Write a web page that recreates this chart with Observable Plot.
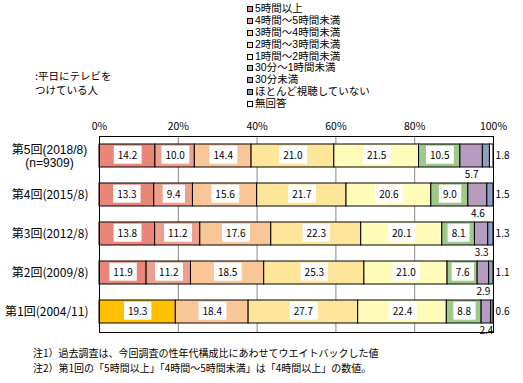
<!DOCTYPE html>
<html>
<head>
<meta charset="utf-8">
<script src="https://cdn.jsdelivr.net/npm/d3@7"></script>
<script src="https://cdn.jsdelivr.net/npm/@observablehq/plot@0.6"></script>
<style>
  html, body { margin: 0; padding: 0; background: #fff; }
  #wrap { position: relative; width: 523px; height: 383px; font-family: "Noto Sans CJK JP", sans-serif; color: #000; }
  #chart { position: absolute; left: 0; top: 0; }
  #legend { position: absolute; left: 247px; top: 3px; font-family: "Liberation Sans", "Noto Sans CJK JP", sans-serif; font-size: 10.5px; line-height: 11.9px; }
  #legend .it { display: flex; align-items: center; white-space: nowrap; height: 11.9px; }
  #legend .sw { display: inline-block; width: 4px; height: 4px; border: 1px solid #000; margin-right: 2px; }
  #note { position: absolute; left: 35px; top: 69px; font-size: 10.5px; line-height: 14px; }
  #foot { position: absolute; left: 33px; top: 345px; font-size: 10px; line-height: 15px; white-space: nowrap; }
</style>
</head>
<body>
<div id="wrap">
  <div id="chart"></div>
  <div id="legend"></div>
  <div id="note">:平日にテレビを<br>つけている人</div>
  <div id="foot">注1）過去調査は、今回調査の性年代構成比にあわせてウエイトバックした値<br>注2）第1回の「5時間以上」「4時間～5時間未満」は「4時間以上」の数値。</div>
</div>
<script>
// ---- data ----
const rounds = ["第5回(2018/8)", "第4回(2015/8)", "第3回(2012/8)", "第2回(2009/8)", "第1回(2004/11)"];
const sampleNote = "(n=9309)";
const categories = ["5時間以上", "4時間～5時間未満", "3時間～4時間未満", "2時間～3時間未満", "1時間～2時間未満", "30分～1時間未満", "30分未満", "ほとんど視聴していない", "無回答"];
const combinedCategory = "4時間以上";
const v5hPlus   = [14.2, 13.3, 13.8, 11.9, null];
const v4to5h    = [10.0, 9.4, 11.2, 11.2, null];
const v4hPlus   = [null, null, null, null, 19.3];
const v3to4h    = [14.4, 15.6, 17.6, 18.5, 18.4];
const v2to3h    = [21.0, 21.7, 22.3, 25.3, 27.7];
const v1to2h    = [21.5, 20.6, 20.1, 21.0, 22.4];
const v30to60m  = [10.5, 9.0, 8.1, 7.6, 8.8];
const vUnder30m = [5.7, 4.6, 3.3, 2.9, 2.4];
const vRarely   = [1.8, 1.5, 1.3, 1.1, 0.6];
const vNoAnswer = [0.9, 0, 0, 0, 0];
const xTicks = [0, 0.2, 0.4, 0.6, 0.8, 1];

// ---- build table (stack order = input order) ----
const seriesList = [
  [categories[0], v5hPlus], [categories[1], v4to5h], [combinedCategory, v4hPlus],
  [categories[2], v3to4h], [categories[3], v2to3h], [categories[4], v1to2h],
  [categories[5], v30to60m], [categories[6], vUnder30m], [categories[7], vRarely], [categories[8], vNoAnswer]
];
const table = [];
rounds.forEach((r, i) => {
  seriesList.forEach(([cat, vals]) => {
    const v = vals[i];
    if (v != null && v > 0) table.push({round: r, cat, value: v});
  });
});

const colorDomain = [...categories, combinedCategory];
const colorRange = ["#EA8678", "#EDA08E", "#F9C797", "#FDE699", "#FFFCBA", "#9FC98B", "#B89CC0", "#8E9CC6", "#FFFFFF", "#FFC000"];

const mainCats = new Set([categories[0], categories[1], categories[2], categories[3], categories[4], categories[5], combinedCategory]);
const fmt = d => d.toFixed(1);
const FONT = "Noto Sans CJK JP, sans-serif";
const LABEL_FONT = "Liberation Sans, Noto Sans CJK JP, sans-serif";

const stackOpts = {x: "value", y: "round", offset: "normalize"};

const plot = Plot.plot({
  width: 523,
  height: 383,
  marginLeft: 99,
  marginRight: 30,
  marginTop: 136,
  marginBottom: 51,
  style: {fontFamily: FONT, fontSize: "10px", background: "transparent"},
  x: {domain: [0, 1], axis: null},
  y: {domain: rounds, paddingInner: 0.4, paddingOuter: 0.2, axis: null},
  color: {domain: colorDomain, range: colorRange},
  marks: [
    Plot.gridX(xTicks, {stroke: "#888", strokeOpacity: 1}),
    Plot.barX(table, Plot.stackX({...stackOpts, fill: "cat", stroke: "#000", strokeWidth: 1})),
    Plot.text(table, Plot.stackX({...stackOpts, text: d => mainCats.has(d.cat) ? fmt(d.value) : null, fill: "#000", fontSize: 10, className: "vlabel"})),
    Plot.text(table, Plot.stackX({...stackOpts, text: d => d.cat === categories[6] ? fmt(d.value) : null, fill: "#000", fontSize: 10, dy: 19})),
    Plot.text(table.filter(d => d.cat === categories[7]), {y: "round", text: d => fmt(d.value), frameAnchor: "right", dx: 16, fontSize: 10}),
    Plot.frame({stroke: "#000"}),
    Plot.axisX(xTicks, {anchor: "top", tickSize: 0, tickPadding: 7, label: null, tickFormat: d => Math.round(d * 100) + "%", fontSize: 10.5}),
    Plot.text(rounds.slice(1), {y: d => d, text: d => d, frameAnchor: "left", dx: -11, textAnchor: "end", fontSize: 12}),
    Plot.text(rounds.slice(0, 1), {y: d => d, text: d => d + "\n" + sampleNote, frameAnchor: "left", dx: -50, textAnchor: "middle", fontSize: 12, lineHeight: 1.15, fontFamily: LABEL_FONT})
  ]
});
document.getElementById("chart").appendChild(plot);

// white label boxes behind value labels
plot.querySelectorAll("g.vlabel text").forEach(t => {
  const b = t.getBBox();
  const padX = 4, padY = 1.5;
  const rect = document.createElementNS("http://www.w3.org/2000/svg", "rect");
  rect.setAttribute("x", b.x - padX);
  rect.setAttribute("y", b.y - padY);
  rect.setAttribute("width", b.width + 2 * padX);
  rect.setAttribute("height", b.height + 2 * padY);
  rect.setAttribute("fill", "#fff");
  const tr = t.getAttribute("transform");
  if (tr) rect.setAttribute("transform", tr);
  t.parentNode.insertBefore(rect, t);
});

// legend
const legend = d3.select("#legend");
categories.forEach((c, i) => {
  const it = legend.append("div").attr("class", "it");
  it.append("span").attr("class", "sw").style("background", colorRange[i]);
  it.append("span").text(c);
});
</script>
</body>
</html>
